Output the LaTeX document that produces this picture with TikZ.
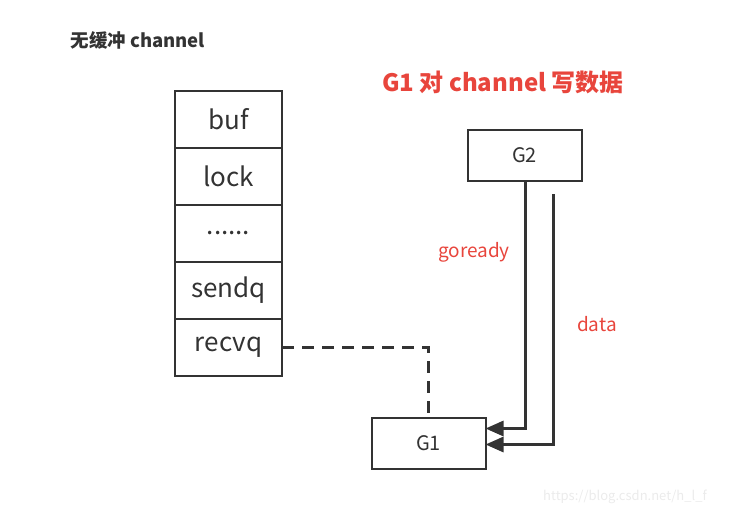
\documentclass[tikz,border=0pt]{standalone}
\usepackage{fontspec}
\setmainfont{Noto Sans CJK SC}
\usetikzlibrary{positioning, arrows.meta}
\definecolor{ink}{HTML}{333333}
\definecolor{redlabel}{HTML}{E8453C}

\begin{document}
\begin{tikzpicture}[x=1pt, y=-1pt,
        field/.style={rectangle, draw=ink, line width=2pt, minimum width=107pt, minimum height=57pt, outer sep=0pt, inner sep=0pt, text=ink, font=\fontsize{26}{29}\selectfont},
        gor/.style={rectangle, draw=ink, line width=2pt, minimum width=114pt, minimum height=51pt, outer sep=0pt, inner sep=0pt, text=ink, font=\fontsize{20}{23}\selectfont},
        line/.style={line width=3pt, draw=ink},
        tip/.style={-{Triangle[length=18pt, width=15pt]}},
        redtext/.style={text=redlabel, font=\fontsize{19}{22}\selectfont}
    ]
        \useasboundingbox (0,0) rectangle (730,520);

        % Titles
        \node[anchor=west, text=ink, font=\bfseries\fontsize{18.5}{21}\selectfont] (title) at (67,40) {无缓冲 channel};
        \node[text=redlabel, font=\bfseries\fontsize{24}{28}\selectfont] (heading) at (503,82) {G1 对 channel 写数据};

        % hchan fields
        \node[field] (buf) at (228.5,119.5) {buf};
        \node[field, below=0pt of buf] (lock) {lock};
        \node[field, below=0pt of lock] (dots) {......};
        \node[field, below=0pt of dots] (sendq) {sendq};
        \node[field, below=0pt of sendq] (recvq) {recvq};

        % Goroutines
        \node[gor] (g2) at (524.5,155.5) {G2};
        \node[gor] (g1) at (428.5,443.5) {G1};

        \coordinate (bend) at (g1.north |- recvq.east);
        \coordinate (dtop) at (553,194);

        \draw[line, dash pattern=on 12pt off 8pt] (recvq.east) -- (bend) -- (g1.north);
        \draw[line, tip] (g2.south -| 525,0) |- ([yshift=15pt]g1.east);
        \draw[line, tip] (dtop) |- ([yshift=-1pt]g1.east);

        \node[redtext] (goready) at (474,252) {goready};
        \node[redtext] (data) at (597,324) {data};

        \node[text=black!8, font=\fontsize{13}{15}\selectfont] (mark) at (625,497) {https://blog.csdn.net/h\_l\_f};
    \end{tikzpicture}
\end{document}
